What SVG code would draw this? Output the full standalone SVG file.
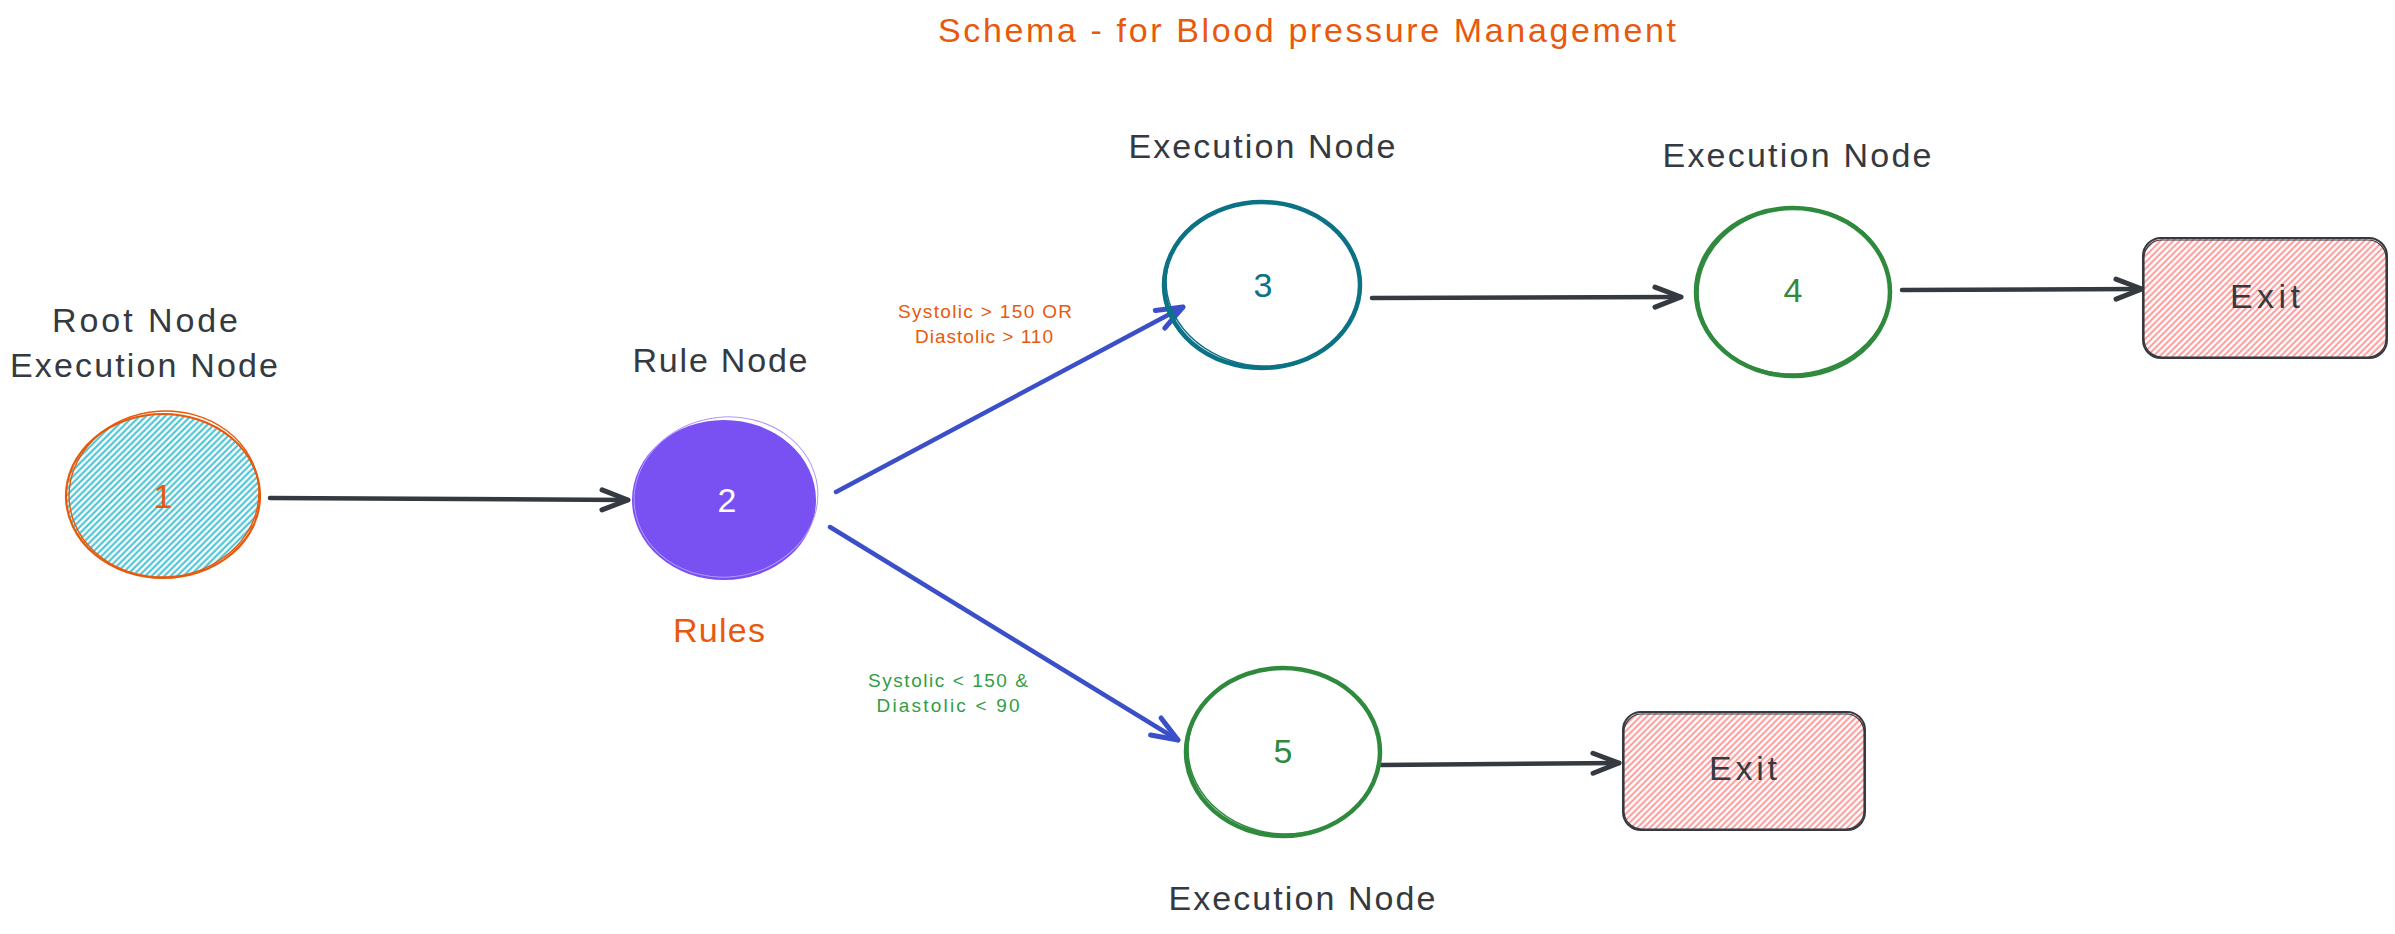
<svg xmlns="http://www.w3.org/2000/svg" width="2395" height="934" viewBox="0 0 2395 934">
<style>
text{font-family:"Liberation Sans","Open Sans",sans-serif;}
.lbl{font-size:34px;fill:#343a40;text-anchor:middle;lengthAdjust:spacing;}
.num{font-size:34px;text-anchor:middle;}
.edge{fill:none;stroke-width:4.5;stroke-linecap:round;}
.dark{stroke:#343a40;}
.blue{stroke:#3b4fc8;}
.elbl{font-size:19px;text-anchor:middle;}
.exitbox{fill:url(#hatchRed);stroke:#343a40;stroke-width:2;}
</style>
<defs>
<pattern id="hatchCyan" patternUnits="userSpaceOnUse" width="4.5" height="4.5" patternTransform="rotate(45)">
<rect width="4.5" height="4.5" fill="#ffffff"/>
<line x1="1.5" y1="0" x2="1.5" y2="4.5" stroke="#3ec1d3" stroke-width="2"/>
</pattern>
<pattern id="hatchRed" patternUnits="userSpaceOnUse" width="4.5" height="4.5" patternTransform="rotate(45)">
<rect width="4.5" height="4.5" fill="#ffffff"/>
<line x1="1.5" y1="0" x2="1.5" y2="4.5" stroke="#ff8f8f" stroke-width="1.8"/>
</pattern>
<marker id="arrDark" viewBox="-30 -15 34 30" markerWidth="34" markerHeight="30" refX="0" refY="0" orient="auto" markerUnits="userSpaceOnUse">
<path d="M-26,-10 L0,0 L-26,10" fill="none" stroke="#343a40" stroke-width="5" stroke-linecap="round" stroke-linejoin="round"/>
</marker>
<marker id="arrBlue" viewBox="-30 -15 34 30" markerWidth="34" markerHeight="30" refX="0" refY="0" orient="auto" markerUnits="userSpaceOnUse">
<path d="M-26,-10 L0,0 L-26,10" fill="none" stroke="#3b4fc8" stroke-width="5" stroke-linecap="round" stroke-linejoin="round"/>
</marker>
</defs>
<rect width="2395" height="934" fill="#ffffff"/>

<text id="title" x="1307" y="42" font-size="34" fill="#e8590c" text-anchor="middle" textLength="738" lengthAdjust="spacing">Schema - for Blood pressure Management</text>

<g id="connectors">
<line class="edge dark" x1="270" y1="498" x2="628" y2="500" marker-end="url(#arrDark)"/>
<line class="edge blue" x1="836" y1="492" x2="1183" y2="307" marker-end="url(#arrBlue)"/>
<line class="edge blue" x1="830" y1="527" x2="1178" y2="740" marker-end="url(#arrBlue)"/>
<line class="edge dark" x1="1372" y1="298" x2="1681" y2="297" marker-end="url(#arrDark)"/>
<line class="edge dark" x1="1902" y1="290" x2="2142" y2="289" marker-end="url(#arrDark)"/>
<line class="edge dark" x1="1381" y1="765" x2="1619" y2="763" marker-end="url(#arrDark)"/>
<text class="elbl" x="985" y="318" fill="#e8590c" textLength="174" lengthAdjust="spacing">Systolic &gt; 150 OR</text>
<text class="elbl" x="984" y="343" fill="#e8590c" textLength="138" lengthAdjust="spacing">Diastolic &gt; 110</text>
<text class="elbl" x="948" y="687" fill="#2f9e44" textLength="160" lengthAdjust="spacing">Systolic &lt; 150 &amp;</text>
<text class="elbl" x="948" y="712" fill="#2f9e44" textLength="143" lengthAdjust="spacing">Diastolic &lt; 90</text>
</g>

<g id="node1">
<ellipse cx="163" cy="496" rx="97" ry="82" fill="url(#hatchCyan)" stroke="#e8590c" stroke-width="2.2"/>
<ellipse cx="164" cy="494" rx="95" ry="83" fill="none" stroke="#e8590c" stroke-width="1.4" transform="rotate(-4 164 494)"/>
<text class="num" x="163" y="508" fill="#e8590c">1</text>
<text class="lbl" x="145" y="332" textLength="186">Root Node</text>
<text class="lbl" x="144" y="377" textLength="268">Execution Node</text>
</g>

<g id="node2">
<ellipse cx="724" cy="500" rx="92" ry="80" fill="#7950f2"/>
<ellipse cx="726" cy="497" rx="92" ry="80" fill="none" stroke="#b197fc" stroke-width="1" transform="rotate(-6 726 497)"/>
<text class="num" x="727" y="512" fill="#ffffff">2</text>
<text class="lbl" x="720" y="372" textLength="175">Rule Node</text>
<text x="719" y="642" font-size="34" fill="#e8590c" text-anchor="middle" textLength="92" lengthAdjust="spacing">Rules</text>
</g>

<g id="node3">
<ellipse cx="1262" cy="285" rx="98" ry="83" fill="none" stroke="#0c7285" stroke-width="4.5"/>
<ellipse cx="1263" cy="284" rx="97" ry="82" fill="none" stroke="#0c7285" stroke-width="1.5" transform="rotate(5 1263 284)"/>
<text class="num" x="1263" y="297" fill="#0c7285">3</text>
<text class="lbl" x="1262" y="158" textLength="267">Execution Node</text>
</g>

<g id="node4">
<ellipse cx="1793" cy="292" rx="97" ry="84" fill="none" stroke="#2f8a3e" stroke-width="4.5"/>
<ellipse cx="1794" cy="291" rx="96" ry="83" fill="none" stroke="#2f8a3e" stroke-width="1.5" transform="rotate(-5 1794 291)"/>
<text class="num" x="1793" y="302" fill="#2f8a3e">4</text>
<text class="lbl" x="1797" y="167" textLength="269">Execution Node</text>
</g>

<g id="exit1">
<rect class="exitbox" x="2143" y="238" width="244" height="120" rx="18"/>
<rect x="2144" y="240" width="242" height="117" rx="18" fill="none" stroke="#343a40" stroke-width="1.2"/>
<text class="lbl" x="2265" y="308" font-size="32" textLength="70">Exit</text>
</g>

<g id="node5">
<ellipse cx="1283" cy="752" rx="97" ry="84" fill="none" stroke="#2f8a3e" stroke-width="4.5"/>
<ellipse cx="1284" cy="751" rx="96" ry="83" fill="none" stroke="#2f8a3e" stroke-width="1.5" transform="rotate(4 1284 751)"/>
<text class="num" x="1283" y="763" fill="#2f8a3e">5</text>
<text class="lbl" x="1302" y="910" textLength="267">Execution Node</text>
</g>

<g id="exit2">
<rect class="exitbox" x="1623" y="712" width="242" height="118" rx="18"/>
<rect x="1624" y="714" width="240" height="115" rx="18" fill="none" stroke="#343a40" stroke-width="1.2"/>
<text class="lbl" x="1743" y="780" font-size="32" textLength="68">Exit</text>
</g>
</svg>
